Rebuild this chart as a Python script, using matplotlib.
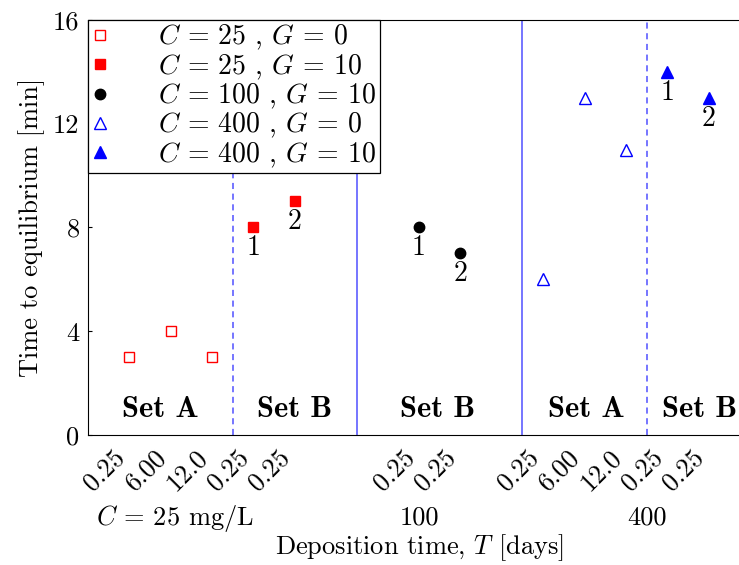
import matplotlib
matplotlib.use('Agg')
import matplotlib.pyplot as plt

plt.rcParams['font.family'] = 'cmr10'
plt.rcParams['mathtext.fontset'] = 'cm'
plt.rcParams['axes.unicode_minus'] = False
plt.rcParams['font.size'] = 19

# positions along the categorical x axis
x_c25_g0 = [1, 2, 3]
x_c25_g10 = [4, 5]
x_c100_g10 = [8, 9]
x_c400_g0 = [11, 12, 13]
x_c400_g10 = [14, 15]

# time to equilibrium [min]
t_c25_g0 = [3, 4, 3]
t_c25_g10 = [8, 9]
t_c100_g10 = [8, 7]
t_c400_g0 = [6, 13, 11]
t_c400_g10 = [14, 13]

tick_pos = x_c25_g0 + x_c25_g10 + x_c100_g10 + x_c400_g0 + x_c400_g10
tick_labels = ['0.25', '6.00', '12.0', '0.25', '0.25', '0.25', '0.25',
               '0.25', '6.00', '12.0', '0.25', '0.25']

solid_sep = [6.5, 10.5]
dashed_sep = [3.5, 13.5]

set_names = ['Set A', 'Set B', 'Set B', 'Set A', 'Set B']
set_pos = [1.75, 5.0, 8.45, 12.05, 14.78]

conc_labels = [r'$C$ = 25 mg/L', '100', '400']
conc_pos = [2.1, 8, 13.5]

fig = plt.figure(figsize=(7.39, 5.65), dpi=100)
ax = fig.add_axes([0.119, 0.230, 0.896, 0.735])

for xv in solid_sep:
    ax.axvline(xv, color='#5050ff', lw=1.1, zorder=1)
for xv in dashed_sep:
    ax.axvline(xv, color='#5050ff', lw=1.1, ls=(0, (4, 3)), zorder=1)

ms = 7.5
ax.plot(x_c25_g0, t_c25_g0, 's', mfc='none', mec='r', ms=ms, mew=1.0,
        label=r'$C$ = 25 , $G$ = 0')
ax.plot(x_c25_g10, t_c25_g10, 's', color='r', ms=ms,
        label=r'$C$ = 25 , $G$ = 10')
ax.plot(x_c100_g10, t_c100_g10, 'o', color='k', ms=ms,
        label=r'$C$ = 100 , $G$ = 10')
ax.plot(x_c400_g0, t_c400_g0, '^', mfc='none', mec='b', ms=ms + 1, mew=1.0,
        label=r'$C$ = 400 , $G$ = 0')
ax.plot(x_c400_g10, t_c400_g10, '^', color='b', ms=ms + 1,
        label=r'$C$ = 400 , $G$ = 10')

# run numbers under the G = 10 points
for xs, ys in [(x_c25_g10, t_c25_g10), (x_c100_g10, t_c100_g10),
               (x_c400_g10, t_c400_g10)]:
    for i, (xv, yv) in enumerate(zip(xs, ys)):
        ax.annotate(str(i + 1), (xv, yv), xytext=(0, -15),
                    textcoords='offset points', ha='center', va='center',
                    fontsize=20)

for name, xv in zip(set_names, set_pos):
    ax.text(xv, 0.69, name, ha='center', va='baseline', family='cmb10',
            fontsize=22)

for lab, xv in zip(conc_labels, conc_pos):
    ax.text(xv, -0.2, lab, ha='center', va='center',
            transform=ax.get_xaxis_transform())
ax.text(8, -0.272, r'Deposition time, $T$ [days]', ha='center', va='center',
        transform=ax.get_xaxis_transform())

ax.set_xlim(0, 16)
ax.set_ylim(0, 16)
ax.set_yticks([0, 4, 8, 12, 16])
ax.set_xticks(tick_pos)
ax.set_xticklabels(tick_labels, rotation=45, ha='right')
ax.tick_params(axis='x', length=0, pad=7)
ax.tick_params(axis='y', direction='in', length=3, pad=6)
ax.set_ylabel('Time to equilibrium [min]', labelpad=6)

leg = ax.legend(loc='upper left', borderaxespad=0, fancybox=False,
                framealpha=1, edgecolor='k', handlelength=0.6,
                handletextpad=1.8, labelspacing=0.0, borderpad=0.12,
                fontsize=20)
leg.get_frame().set_linewidth(0.9)

fig.savefig('out.png', dpi=100)
